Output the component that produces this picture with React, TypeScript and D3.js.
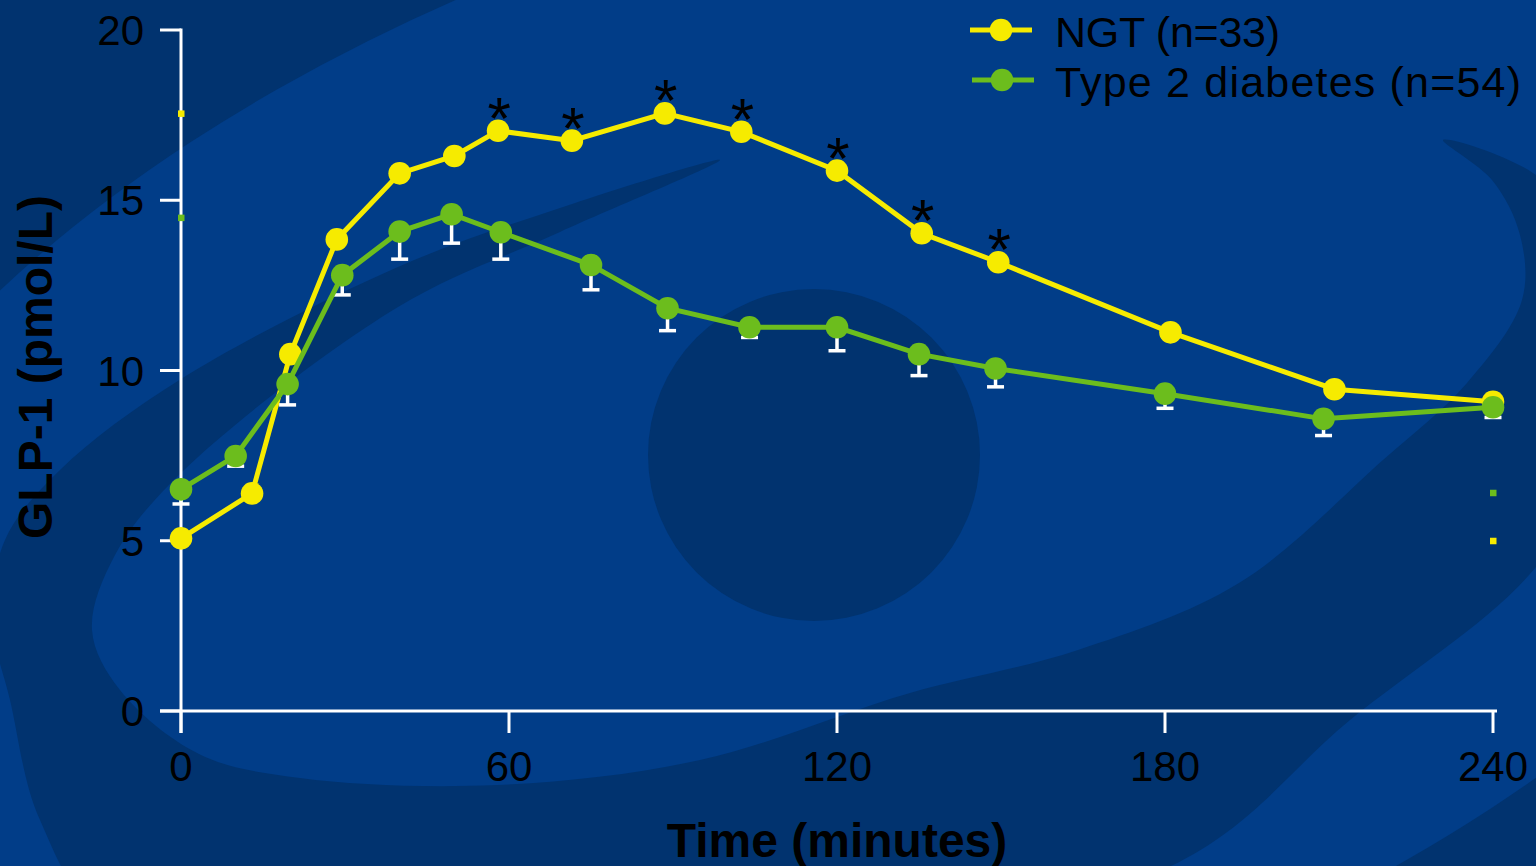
import React, { useEffect } from 'react';
import * as d3 from 'd3';

// GLP-1 response
const ngtTime = [0, 13, 20, 28.5, 40, 50, 58, 71.5, 88.5, 102.5, 120, 135.5, 149.5, 181, 211, 240];
const ngtValue = [5.07, 6.39, 10.48, 13.85, 15.79, 16.3, 17.04, 16.75, 17.55, 17.01, 15.87, 14.03, 13.18, 11.12, 9.45, 9.08];
const ngtStar = [false, false, false, false, false, false, true, true, true, true, true, true, true, false, false, false];

const t2dTime = [0, 10, 19.5, 29.5, 40, 49.5, 58.5, 75, 89, 104, 120, 135, 149, 180, 209, 240];
const t2dValue = [6.51, 7.49, 9.6, 12.8, 14.08, 14.59, 14.06, 13.1, 11.83, 11.27, 11.27, 10.48, 10.06, 9.32, 8.58, 8.92];
const t2dSem = [0.43, 0.3, 0.61, 0.58, 0.81, 0.85, 0.79, 0.73, 0.66, 0.3, 0.69, 0.63, 0.54, 0.43, 0.49, 0.3];

const xTicks = [0, 60, 120, 180, 240];
const yTicks = [0, 5, 10, 15, 20];

const seriesNames = ['NGT (n=33)', 'Type 2 diabetes (n=54)'];

const YELLOW = '#f6eb00';
const GREEN = '#6cbd1d';
const BASE = '#013d88';
const DARK = '#01336f';
const FONT = '"Liberation Sans", Arial, sans-serif';

// decorative crescent behind the plot (page pixels, not data)
const swoosh: [number, number][] = [
  [720, 160], [560, 208], [398, 267], [181, 379], [60, 470], [5, 540], [-8, 620], [10, 700],
  [40, 820], [110, 920], [600, 990], [1171, 866], [1350, 720], [1536, 567], [1610, 430],
  [1620, 280], [1536, 175], [1443, 140],
  [1492, 180], [1520, 235], [1522, 300], [1467, 383], [1383, 460], [1239, 583], [1078, 650],
  [910, 693], [700, 760], [497, 785], [300, 778], [199, 754], [120, 690], [92, 630],
  [115, 555], [181, 473], [398, 307], [560, 232],
];

type Pt = { t: number; v: number; e?: number; star?: boolean };

export default function App() {
  useEffect(() => {
    document.body.style.margin = '0';
    document.body.style.overflow = 'hidden';
  }, []);

  const width = 1536;
  const height = 866;

  const x = d3.scaleLinear().domain([0, 240]).range([181, 1493]);
  const y = d3.scaleLinear().domain([0, 20]).range([711, 30]);

  const ngt: Pt[] = ngtTime.map((t, i) => ({ t, v: ngtValue[i], star: ngtStar[i] }));
  const t2d: Pt[] = t2dTime.map((t, i) => ({ t, v: t2dValue[i], e: t2dSem[i] }));

  const line = d3.line<Pt>().x(d => x(d.t)).y(d => y(d.v));
  const swooshPath = d3.line().curve(d3.curveCatmullRomClosed.alpha(0.5))(swoosh)!;

  // little end markers on the axes (peaks on the left, baselines on the right)
  const sideMarks = [
    { t: 0, v: d3.max(ngtValue)!, c: YELLOW },
    { t: 0, v: d3.max(t2dValue)! - 0.1, c: GREEN },
    { t: 240, v: t2dValue[0] - 0.1, c: GREEN },
    { t: 240, v: ngtValue[0] - 0.07, c: YELLOW },
  ];

  return (
    <svg width={width} height={height} style={{ position: 'absolute', left: 0, top: 0 }}>
      {/* background */}
      <rect width={width} height={height} fill={DARK} />
      <ellipse cx={840.6} cy={475.4} rx={1104} ry={581} fill={BASE} transform="rotate(-17.4 840.6 475.4)" />
      <path d={swooshPath} fill={DARK} />
      <circle cx={814} cy={455} r={166} fill={DARK} />

      {/* axes */}
      <g stroke="#fff" strokeWidth={3} fill="none">
        <line x1={x(0)} x2={x(0)} y1={y(20) - 1.5} y2={y(0) + 22} />
        <line x1={x(0) - 21} x2={x(240) + 4} y1={y(0)} y2={y(0)} />
        {yTicks.map(t => (
          <line key={'yt' + t} x1={x(0) - 21} x2={x(0)} y1={y(t)} y2={y(t)} />
        ))}
        {xTicks.map(t => (
          <line key={'xt' + t} x1={x(t)} x2={x(t)} y1={y(0)} y2={y(0) + 22} />
        ))}
      </g>
      <g fontFamily={FONT} fontSize={42} fill="#000">
        {yTicks.map(t => (
          <text key={'yl' + t} x={x(0) - 37} y={y(t)} dy="0.36em" textAnchor="end">
            {t}
          </text>
        ))}
        {xTicks.map(t => (
          <text key={'xl' + t} x={x(t)} y={781} textAnchor="middle">
            {t}
          </text>
        ))}
      </g>
      <text
        transform="translate(52, 367) rotate(-90)"
        textAnchor="middle"
        fontFamily={FONT}
        fontWeight="bold"
        fontSize={48}
        fill="#000"
      >
        GLP-1 (pmol/L)
      </text>
      <text x={x(120)} y={857} textAnchor="middle" fontFamily={FONT} fontWeight="bold" fontSize={48} fill="#000">
        Time (minutes)
      </text>

      {/* NGT series */}
      <path d={line(ngt)!} fill="none" stroke={YELLOW} strokeWidth={5} />
      {ngt.map((d, i) => (
        <circle key={'n' + i} cx={x(d.t)} cy={y(d.v)} r={11.3} fill={YELLOW} />
      ))}
      {ngt.filter(d => d.star).map((d, i) => (
        <text
          key={'s' + i}
          x={x(d.t) + 1}
          y={y(d.v) + 8}
          textAnchor="middle"
          fontFamily={FONT}
          fontSize={60}
          fill="#000"
        >
          *
        </text>
      ))}

      {/* type 2 diabetes series with lower SEM bars */}
      <g stroke="#fff" strokeWidth={3.5}>
        {t2d.map((d, i) => (
          <g key={'e' + i}>
            <line x1={x(d.t)} x2={x(d.t)} y1={y(d.v)} y2={y(d.v - d.e!)} />
            <line x1={x(d.t) - 8.5} x2={x(d.t) + 8.5} y1={y(d.v - d.e!)} y2={y(d.v - d.e!)} />
          </g>
        ))}
      </g>
      <path d={line(t2d)!} fill="none" stroke={GREEN} strokeWidth={5} />
      {t2d.map((d, i) => (
        <circle key={'g' + i} cx={x(d.t)} cy={y(d.v)} r={11.3} fill={GREEN} />
      ))}

      {sideMarks.map((m, i) => (
        <rect key={'m' + i} x={x(m.t) - 3} y={y(m.v) - 3} width={6.5} height={6.5} fill={m.c} />
      ))}

      {/* legend */}
      {seriesNames.map((name, i) => {
        const ly = 30 + i * 50;
        const c = i === 0 ? YELLOW : GREEN;
        return (
          <g key={name}>
            <line x1={970 + i * 2} x2={1032 + i * 2} y1={ly} y2={ly} stroke={c} strokeWidth={5} />
            <circle cx={1001 + i * 1} cy={ly} r={11.3} fill={c} />
            <text
              x={1055}
              y={ly + 17}
              fontFamily={FONT}
              fontSize={43}
              fill="#000"
              textLength={i === 0 ? 225 : 466}
              lengthAdjust="spacing"
            >
              {name}
            </text>
          </g>
        );
      })}
    </svg>
  );
}
